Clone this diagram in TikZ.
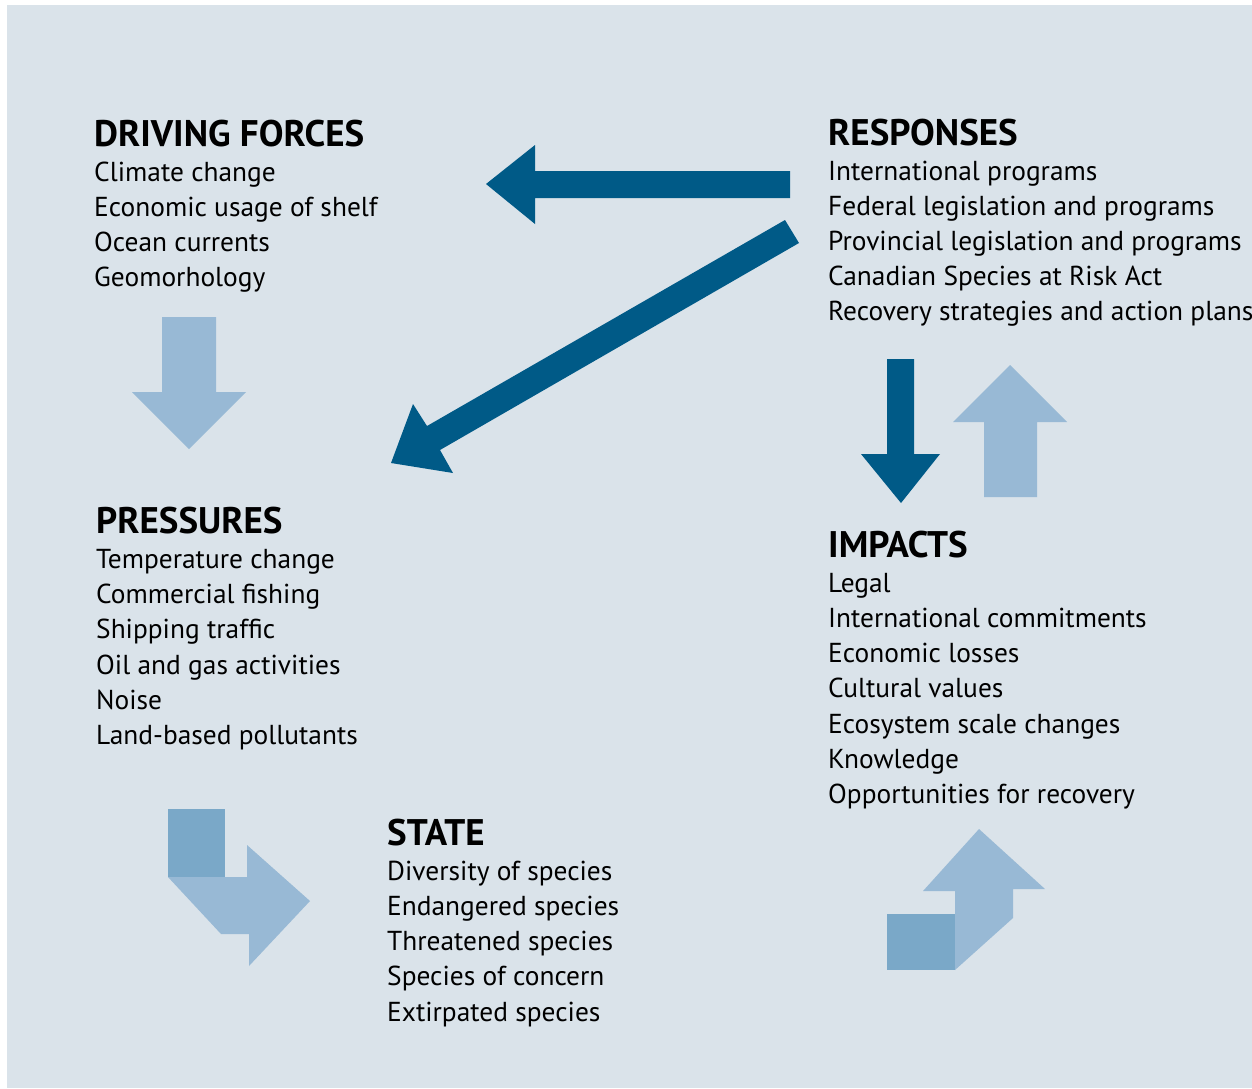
\documentclass[tikz,border=0pt]{standalone}
\usepackage{fontspec}
\setmainfont{PT Sans}
\usetikzlibrary{positioning}

\definecolor{panel}{HTML}{DAE3EA}
\definecolor{darkarrow}{HTML}{005A87}
\definecolor{lightarrow}{HTML}{98B9D5}
\definecolor{squarefill}{HTML}{7AA8C8}

\tikzset{
  head/.style={anchor=base west,inner sep=0pt,font=\fontsize{37}{37}\selectfont\bfseries},
  item/.style={anchor=base west,inner sep=0pt,font=\fontsize{27.4}{27.4}\selectfont},
  dark/.style={fill=darkarrow,draw=none},
  light/.style={fill=lightarrow,draw=none},
  square/.style={fill=squarefill,draw=none}
}

\begin{document}
\begin{tikzpicture}[x=1pt,y=-1pt]
        \useasboundingbox (0,0) rectangle (1252,1088);
        \fill[white] (0,0) rectangle (1252,1088);
        \fill[panel] (7,5) rectangle (1252,1088);

        % text blocks
        \node[head] (drive) at (94,146) {DRIVING FORCES};
        \foreach \txt [count=\i] in {Climate change,Economic usage of shelf,Ocean currents,Geomorhology}
            \node[item] (drive-\i) at ([yshift=-35.2*\i] drive.base west) {\txt};

        \node[head] (resp) at (828,145) {RESPONSES};
        \foreach \txt [count=\i] in {International programs,Federal legislation and programs,Provincial legislation and programs,Canadian Species at Risk Act,Recovery strategies and action plans}
            \node[item] (resp-\i) at ([yshift=-35.1*\i] resp.base west) {\txt};

        \node[head] (press) at (96,533) {PRESSURES};
        \foreach \txt [count=\i] in {Temperature change,Commercial fishing,Shipping traffic,Oil and gas activities,Noise,Land-based pollutants}
            \node[item] (press-\i) at ([yshift=-35.3*\i] press.base west) {\txt};

        \node[head] (impact) at (828,557) {IMPACTS};
        \foreach \txt [count=\i] in {Legal,International commitments,Economic losses,Cultural values,Ecosystem scale changes,Knowledge,Opportunities for recovery}
            \node[item] (impact-\i) at ([yshift=-35.2*\i] impact.base west) {\txt};

        \node[head] (state) at (387,845) {STATE};
        \foreach \txt [count=\i] in {Diversity of species,Endangered species,Threatened species,Species of concern,Extirpated species}
            \node[item] (state-\i) at ([yshift=-35.2*\i] state.base west) {\txt};

        % arrows
        \fill[light] (162,317) -- (216,317) -- (216,392) -- (246,392) -- (189,449) -- (132,392) -- (162,392) -- cycle;
        \fill[dark] (790,171) -- (535,171) -- (535,145) -- (486,184) -- (535,224) -- (535,198) -- (790,198) -- cycle;
        \fill[dark] (785,220) -- (799,243) -- (440,450) -- (453,473) -- (391,463) -- (413,404) -- (427,426) -- cycle;
        \fill[dark] (887,359) -- (914,359) -- (914,454) -- (940,454) -- (901,503) -- (861,454) -- (887,454) -- cycle;
        \fill[light] (984,497) -- (1037,497) -- (1037,422) -- (1067,422) -- (1010,365) -- (953,422) -- (984,422) -- cycle;
        \fill[square] (168,809) rectangle (225,877);
        \fill[light] (168,877) -- (247,877) -- (247,845) -- (310,901) -- (249,966) -- (249,934) -- (221,934) -- cycle;
        \fill[square] (887,914) rectangle (955,970);
        \fill[light] (955,970) -- (955,891) -- (923,891) -- (979,829) -- (1045,889) -- (1013,889) -- (1013,918) -- cycle;
    \end{tikzpicture}
\end{document}
